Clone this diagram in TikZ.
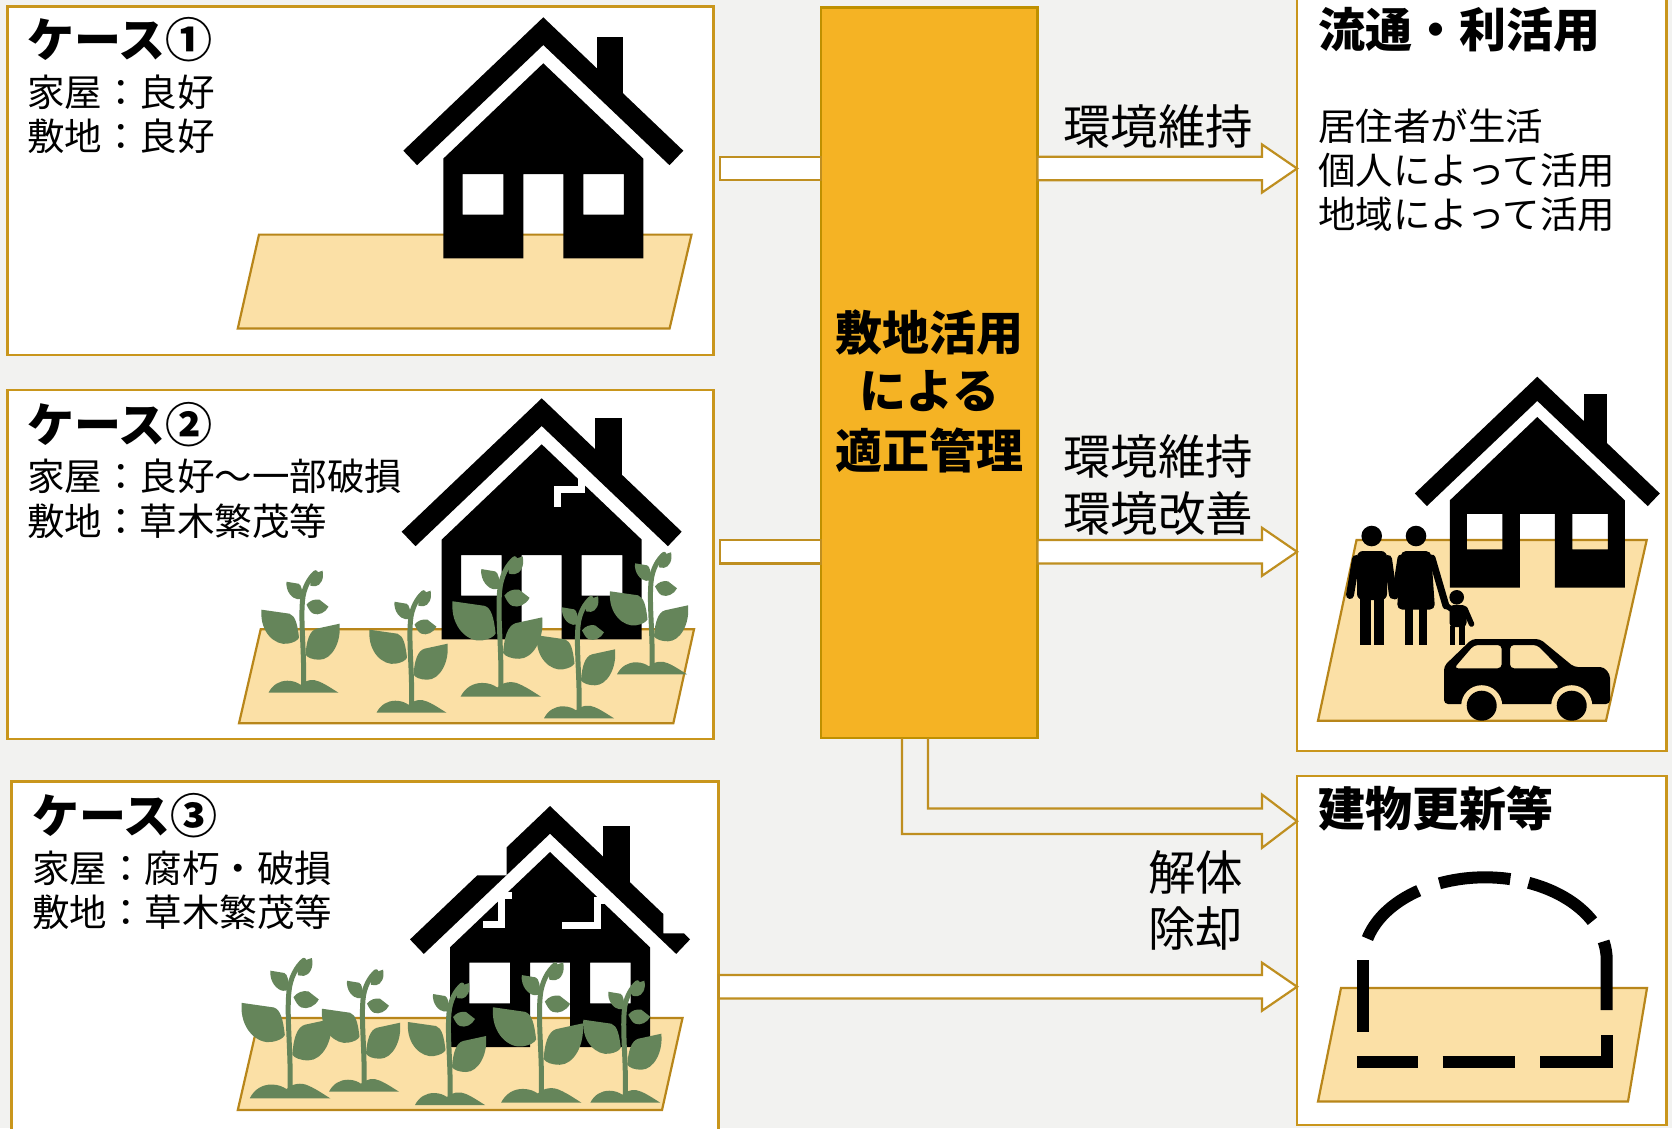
\documentclass[tikz,border=0pt]{standalone}
\usepackage{fontspec}
\setmainfont{Noto Sans CJK JP}
\usetikzlibrary{calc}

\definecolor{bg}{HTML}{F2F2F0}
\definecolor{frame}{HTML}{C9961C}
\definecolor{arrowline}{HTML}{BF8F20}
\definecolor{lotfill}{HTML}{FBE0A6}
\definecolor{lotline}{HTML}{B8861A}
\definecolor{hub}{HTML}{F5B324}
\definecolor{hubline}{HTML}{BF9000}
\definecolor{leafgreen}{HTML}{65855A}

% house parts in local units: origin at the roof ridge, y grows downwards
\newcommand\houseroof{\fill (0,0) -- (140,133.4) -- (126.2,147.9) -- (0,27.7) -- (-126.2,147.9) -- (-140,133.4) -- cycle;}
\newcommand\brokenroof{\fill (0,0) -- (113.3,108) -- (113.3,127.3) -- (134,127.3) -- (140,133.4) -- (126.2,147.9) -- (0,27.7) -- (-126.2,147.9) -- (-140,133.4) -- (-72.7,69.3) -- (-43.3,69.3) -- (-43.3,41.3) -- cycle;}
\newcommand\housechimney{\fill (53.4,20) rectangle (80,78);}
\newcommand\housebody{\fill[even odd rule] (0,46) -- (100,141.3) -- (100,241) -- (20,241) -- (20,156.7) -- (-20,156.7) -- (-20,241) -- (-100,241) -- (-100,141.3) -- cycle (-80.6,156.7) rectangle (-40,197.4) (40,156.7) rectangle (80.6,197.4);}
\newcommand\blockarrow[2]{% #1 tail point, #2 tip point (same row)
  \draw[hollow] ($(#1)+(0,-11.75)$) -- ($(#2)+(-35,-11.75)$) -- ($(#2)+(-35,-24)$) -- (#2) -- ($(#2)+(-35,24)$) -- ($(#2)+(-35,11.75)$) -- ($(#1)+(0,11.75)$) -- cycle;}

\tikzset{
  panel/.style={draw=frame, line width=2.5pt, fill=white, inner sep=0pt, outer sep=0pt},
  lot/.style={draw=lotline, line width=2.2pt, fill=lotfill, line join=miter},
  hollow/.style={draw=arrowline, line width=2.2pt, fill=white, line join=miter},
  ttl/.style={font=\fontsize{47}{56}\selectfont\bfseries, inner sep=0pt, anchor=west},
  txt/.style={font=\fontsize{37.5}{44}\selectfont, inner sep=0pt, anchor=west},
  lbl/.style={font=\fontsize{47.5}{56}\selectfont, inner sep=0pt, anchor=west},
  hubtxt/.style={font=\fontsize{47}{56}\selectfont\bfseries, inner sep=0pt},
  crack/.style={white, line width=7pt, line join=miter},
  pics/plant/.style={code={
    \fill[leafgreen] (-35,0) .. controls (-31,-8) and (-24,-12) .. (-16,-12) .. controls (-10,-12) and (-6,-10) .. (-3,-8) .. controls (2,-13) and (10,-14) .. (16,-11) .. controls (23,-8) and (30,-3) .. (35,0) -- cycle;
    \draw[leafgreen, line width=5pt, line cap=round] (0,-6) .. controls (1,-40) and (-3,-70) .. (-1,-92) .. controls (0,-105) and (6,-115) .. (12,-120);
    \fill[leafgreen] (-4.5,-55) .. controls (-6,-68) and (-8,-77) .. (-14,-79) -- (-42,-83) .. controls (-44,-60) and (-28,-47) .. (-16,-49) .. controls (-10,-50) and (-6,-52) .. cycle;
    \fill[leafgreen] (2,-38) .. controls (3,-52) and (6,-62) .. (13,-64) -- (36,-69) .. controls (38,-50) and (28,-33) .. (16,-33) .. controls (9,-33) and (4,-35) .. cycle;
    \fill[leafgreen] (-1,-94) .. controls (-1,-102) and (-2,-108) .. (-5,-109) -- (-17,-111) .. controls (-18,-101) and (-11,-94) .. (-6,-93.5) .. controls (-4,-93.5) and (-2,-94) .. cycle;
    \fill[leafgreen] (7,-107) .. controls (6,-114) and (7,-118) .. (10,-119) -- (19,-122) .. controls (21,-114) and (17,-107) .. (12,-106.5) .. controls (10,-106.5) and (8,-106.8) .. cycle;
    \fill[leafgreen] (3,-88) .. controls (6,-92) and (11,-94) .. (16,-93) -- (25,-86) .. controls (22,-80) and (15,-77) .. (10,-79) .. controls (7,-80) and (5,-84) .. cycle;
  }},
}

\begin{document}
\begin{tikzpicture}[x=1pt, y=-1pt]
\useasboundingbox (0,0) rectangle (1672,1128);
\fill[bg] (0,0) rectangle (1672,1128);
\clip (0,0) rectangle (1672,1128);

% panels
\node[panel, minimum width=706pt, minimum height=348.6pt] (case1) at (360.5,180.7) {};
\node[panel, minimum width=706pt, minimum height=349pt] (case2) at (360.5,564.5) {};
\node[panel, minimum width=707pt, minimum height=358.4pt] (case3) at (365.2,960.8) {};
\node[panel, minimum width=369.5pt, minimum height=760.7pt] (use) at (1481.8,370.4) {};
\node[panel, minimum width=369.5pt, minimum height=349pt] (renew) at (1481.8,950.5) {};
\node[draw=hubline, fill=hub, line width=2.5pt, inner sep=0pt, outer sep=0pt,
      minimum width=216.5pt, minimum height=730.5pt] (hub) at (929.3,372.8) {};

% rows of the arrows
\coordinate (row1) at (0,168.5);
\coordinate (row2) at (0,551.8);
\coordinate (row5) at (0,821.2);
\coordinate (row6) at (0,986.7);
\coordinate (lx1) at (902,0);
\coordinate (lx2) at (928,0);

% arrows into the hub
\draw[hollow] ($(case1.east |- row1)+(6.6,-11.75)$) rectangle ($(hub.west |- row1)+(0,11.75)$);
\draw[hollow] ($(case2.east |- row2)+(6.6,-11.75)$) rectangle ($(hub.west |- row2)+(0,11.75)$);
% arrows out of the hub
\blockarrow{hub.east |- row1}{use.west |- row1}
\blockarrow{hub.east |- row2}{use.west |- row2}
\blockarrow{case3.east |- row6}{renew.west |- row6}
% bent arrow from the hub down to the renewal panel
\draw[draw=arrowline, line width=2.2pt, line join=miter]
  (hub.south -| lx1) -- ($(lx1 |- row5)+(0,12.75)$) -- ($(renew.west |- row5)+(-35,12.75)$)
  -- ($(renew.west |- row5)+(-35,26.6)$) -- (renew.west |- row5) -- ($(renew.west |- row5)+(-35,-26.6)$)
  -- ($(renew.west |- row5)+(-35,-12.75)$) -- ($(lx2 |- row5)+(0,-12.75)$) -- (hub.south -| lx2);

% lots
\draw[lot] (259,234.6) -- (691.5,234.6) -- (669.6,328.4) -- (237.8,328.4) -- cycle;
\draw[lot] (260.7,629.3) -- (694,629.3) -- (673.3,723.3) -- (239,723.3) -- cycle;
\draw[lot] (259,1018) -- (682.5,1018) -- (662,1110) -- (237.8,1110) -- cycle;
\draw[lot] (1356.5,540) -- (1646.7,540) -- (1606,720.7) -- (1318,720.7) -- cycle;
\draw[lot] (1341,988) -- (1647,988) -- (1628,1101.5) -- (1318,1101.5) -- cycle;

% case 1 house
\begin{scope}[shift={(543.3,17.3)}]
  \houseroof \housechimney \housebody
\end{scope}

% case 2 house, cracked wall
\begin{scope}[shift={(541.7,398.3)}]
  \houseroof \housechimney \housebody
  \draw[crack] (40,80) -- (40,91.3) -- (15.3,91.3) -- (15.3,108.3);
\end{scope}
\pic at (303.5,692.7) {plant};
\pic at (411.5,712.7) {plant};
\pic[scale=1.15] at (500.8,696.7) {plant};
\pic at (579,718.3) {plant};
\pic at (652,674.3) {plant};

% case 3 house, broken roof
\begin{scope}[shift={(550,806)}]
  \brokenroof \housechimney \housebody
  \draw[crack] (-38.3,89) -- (-48.3,89) -- (-48.3,118) -- (-66.7,118);
  \draw[crack] (58,94) -- (47.3,94) -- (47.3,119) -- (11.7,119);
\end{scope}
\pic[scale=1.15] at (290,1098.3) {plant};
\pic at (364,1091.7) {plant};
\pic at (450,1105) {plant};
\pic[scale=1.15] at (541.3,1102.7) {plant};
\pic at (625.3,1102.7) {plant};

% house in use
\begin{scope}[shift={(1537.3,376.7)}, scale=0.875]
  \houseroof \housechimney \housebody
\end{scope}

% family
\fill (1371.7,536) circle[radius=10.3];
\fill[rounded corners=6] (1357,600) -- (1357,551) -- (1387,551) -- (1387,600) -- cycle;
\draw[line width=8pt, line cap=round] (1356,559) -- (1350,595);
\draw[line width=8pt, line cap=round] (1388,559) -- (1393,595);
\fill (1360,598) rectangle (1370.5,645);
\fill (1373.5,598) rectangle (1384,645);

\fill (1416,536) circle[radius=10.3];
\fill[rounded corners=5] (1401,551) -- (1431,551) -- (1435,609.5) -- (1397,609.5) -- cycle;
\draw[line width=7pt, line cap=round] (1401,558) -- (1395,596);
\draw[line width=7pt, line cap=round] (1432,558) -- (1446,606);
\fill (1405,609) rectangle (1413.3,645);
\fill (1419.3,609) rectangle (1427.3,645);

\fill (1456.7,597.3) circle[radius=7.3];
\fill[rounded corners=4] (1449.5,605) rectangle (1466.5,627);
\draw[line width=5.5pt, line cap=round] (1451,609) -- (1447,606);
\draw[line width=5.5pt, line cap=round] (1465,609) -- (1471.5,624);
\fill (1449.5,626) rectangle (1455,645);
\fill (1458.5,626) rectangle (1464.5,645);

% car
\fill[even odd rule, rounded corners=4] (1444,704) -- (1444,666) -- (1472,639) -- (1540,639) -- (1574,667) -- (1596,667) .. controls (1605,667) and (1610,673) .. (1610,682) -- (1610,704) -- cycle
  (1454,668.3) -- (1474,645) -- (1501.7,645) -- (1501.7,668.3) -- cycle
  (1510,645) -- (1537.3,645) -- (1560,668.3) -- (1510,668.3) -- cycle;
\begin{scope}
  \clip (1430,640) rectangle (1620,705);
  \fill[lotfill] (1481.7,705.7) circle[radius=20.5];
  \fill[lotfill] (1571.7,705.7) circle[radius=20.5];
\end{scope}
\fill (1481.7,705.7) circle[radius=15];
\fill (1571.7,705.7) circle[radius=15];

% dashed outline of the building to come
\begin{scope}[line width=12pt]
  \draw (1357.3,1061.7) -- (1418.3,1061.7);
  \draw (1442.7,1061.7) -- (1515,1061.7);
  \draw[line join=miter] (1540,1061.7) -- (1606.7,1061.7) -- (1606.7,1035);
  \draw (1606.7,1010) -- (1606.7,960) -- plot[domain=0:13, samples=8] ({1485+121.7*cos(\x)},{960-82.7*sin(\x)});
  \draw plot[domain=28:69, samples=20] ({1485+121.7*cos(\x)},{960-82.7*sin(\x)});
  \draw plot[domain=78:112, samples=20] ({1485+121.7*cos(\x)},{960-82.7*sin(\x)});
  \draw plot[domain=123:165, samples=20] ({1485+121.7*cos(\x)},{960-82.7*sin(\x)});
  \draw (1363.3,960) -- (1363.3,1031.7);
\end{scope}

% texts
\node[ttl] (c1t) at (27,40) {ケース①};
\node[txt] (c1a) at (27,92) {家屋：良好};
\node[txt] (c1b) at (27,136.5) {敷地：良好};
\node[ttl] (c2t) at (27,425) {ケース②};
\node[txt] (c2a) at (27,476.5) {家屋：良好～一部破損};
\node[txt] (c2b) at (27,521) {敷地：草木繁茂等};
\node[ttl] (c3t) at (32,816) {ケース③};
\node[txt] (c3a) at (32,868) {家屋：腐朽・破損};
\node[txt] (c3b) at (32,912) {敷地：草木繁茂等};
\node[hubtxt] (h1) at (929.3,332.7) {敷地活用};
\node[hubtxt] (h2) at (929.3,391.3) {による};
\node[hubtxt] (h3) at (929.3,450) {適正管理};
\node[ttl] (o1t) at (1318,30) {流通・利活用};
\node[txt] (o1a) at (1318,126) {居住者が生活};
\node[txt] (o1b) at (1318,170.6) {個人によって活用};
\node[txt] (o1c) at (1318,214.3) {地域によって活用};
\node[lbl] (l1) at (1063,126) {環境維持};
\node[lbl] (l2a) at (1063,456.4) {環境維持};
\node[lbl] (l2b) at (1063,513) {環境改善};
\node[ttl] (o2t) at (1318,809) {建物更新等};
\node[lbl] (l3a) at (1148,872) {解体};
\node[lbl] (l3b) at (1148,928) {除却};
\end{tikzpicture}
\end{document}
